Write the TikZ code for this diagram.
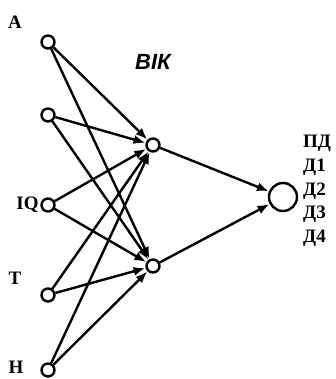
\documentclass[tikz,border=0pt]{standalone}
\usepackage{fontspec}
\setmainfont{Liberation Serif}
\newfontfamily\vikfont{Liberation Sans}
\usetikzlibrary{arrows.meta,positioning}

\begin{document}
\begin{tikzpicture}[x=1pt,y=-1pt,line width=2.4pt,
	neuron/.style={circle,draw,inner sep=0pt,minimum size=13pt},
	outneuron/.style={circle,draw,inner sep=0pt,minimum size=28pt},
	inlabel/.style={font=\fontsize{19}{19}\selectfont\bfseries,inner sep=0pt},
	link/.style={-{Latex[length=12pt,width=9pt]}}]
		\useasboundingbox (0,0) rectangle (336,379);
		
		\node[neuron] (a) at (48,42) {};
		\node[neuron] (b) at (48,115) {};
		\node[neuron] (iq) at (48,205) {};
		\node[neuron] (t) at (48,295) {};
		\node[neuron] (h) at (48,370) {};
		\node[neuron] (h1) at (153,145) {};
		\node[neuron] (h2) at (153,266) {};
		\node[outneuron] (out) at (283,197) {};
		
		\node[inlabel] (la) at (15,22) {A};
		\node[inlabel,left=0.5pt of iq] (liq) {IQ};
		\node[inlabel] (lt) at (15,278) {T};
		\node[inlabel] (lh) at (16,367) {H};
		\node[font=\vikfont\fontsize{22}{22}\selectfont\bfseries\itshape] (vik) at (153,62) {ВІК};
		
		\foreach \t/\yy [count=\i] in {ПД/143,Д1/167,Д2/191,Д3/214,Д4/238}
			\node[inlabel,anchor=west,name=d\i] at (302,\yy) {\t};
		
		\foreach \src in {a,b,iq,t,h}{
			\draw[link] (\src) -- (h1);
			\draw[link] (\src) -- (h2);
		}
		\draw[link] (h1) -- (out);
		\draw[link] (h2) -- (out);
		
\end{tikzpicture}
\end{document}
